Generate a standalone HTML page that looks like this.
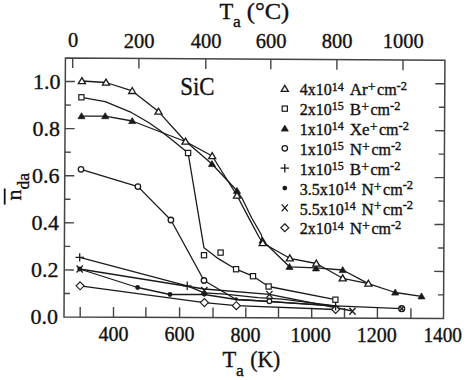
<!DOCTYPE html>
<html><head><meta charset="utf-8"><style>
html,body{margin:0;padding:0;background:#fff;width:466px;height:380px;overflow:hidden}
svg{display:block}
text{font-family:"Liberation Serif",serif}
</style></head><body>
<svg width="466" height="380" viewBox="0 0 466 380"><polygon points="65.43,57.95 444.93,60.34 443.50,318.38 64.00,317.00" fill="none" stroke="#444" stroke-width="1.5"/>
<line x1="80.20" y1="317.06" x2="80.20" y2="306.94" stroke="#444" stroke-width="1.4"/>
<line x1="113.50" y1="317.18" x2="113.50" y2="307.06" stroke="#444" stroke-width="1.4"/>
<line x1="145.90" y1="317.30" x2="145.90" y2="307.18" stroke="#444" stroke-width="1.4"/>
<line x1="179.60" y1="317.42" x2="179.60" y2="307.31" stroke="#444" stroke-width="1.4"/>
<line x1="213.00" y1="317.54" x2="213.00" y2="307.43" stroke="#444" stroke-width="1.4"/>
<line x1="245.80" y1="317.66" x2="245.80" y2="307.55" stroke="#444" stroke-width="1.4"/>
<line x1="278.50" y1="317.78" x2="278.50" y2="307.68" stroke="#444" stroke-width="1.4"/>
<line x1="311.70" y1="317.90" x2="311.70" y2="307.80" stroke="#444" stroke-width="1.4"/>
<line x1="344.50" y1="318.02" x2="344.50" y2="307.92" stroke="#444" stroke-width="1.4"/>
<line x1="377.40" y1="318.14" x2="377.40" y2="308.05" stroke="#444" stroke-width="1.4"/>
<line x1="410.90" y1="318.26" x2="410.90" y2="308.17" stroke="#444" stroke-width="1.4"/>
<line x1="72.70" y1="58.00" x2="72.70" y2="68.12" stroke="#444" stroke-width="1.4"/>
<line x1="138.90" y1="58.41" x2="138.90" y2="68.53" stroke="#444" stroke-width="1.4"/>
<line x1="205.80" y1="58.83" x2="205.80" y2="68.94" stroke="#444" stroke-width="1.4"/>
<line x1="270.80" y1="59.25" x2="270.80" y2="69.35" stroke="#444" stroke-width="1.4"/>
<line x1="336.90" y1="59.66" x2="336.90" y2="69.76" stroke="#444" stroke-width="1.4"/>
<line x1="403.00" y1="60.08" x2="403.00" y2="70.17" stroke="#444" stroke-width="1.4"/>
<line x1="64.13" y1="293.45" x2="69.91" y2="293.47" stroke="#444" stroke-width="1.4"/>
<line x1="443.63" y1="294.92" x2="437.86" y2="294.90" stroke="#444" stroke-width="1.4"/>
<line x1="64.26" y1="269.90" x2="73.83" y2="269.94" stroke="#444" stroke-width="1.4"/>
<line x1="443.76" y1="271.46" x2="434.19" y2="271.42" stroke="#444" stroke-width="1.4"/>
<line x1="64.39" y1="246.35" x2="70.17" y2="246.38" stroke="#444" stroke-width="1.4"/>
<line x1="443.89" y1="248.01" x2="438.12" y2="247.98" stroke="#444" stroke-width="1.4"/>
<line x1="64.52" y1="222.80" x2="74.09" y2="222.84" stroke="#444" stroke-width="1.4"/>
<line x1="444.02" y1="224.55" x2="434.45" y2="224.50" stroke="#444" stroke-width="1.4"/>
<line x1="64.65" y1="199.25" x2="70.43" y2="199.28" stroke="#444" stroke-width="1.4"/>
<line x1="444.15" y1="201.09" x2="438.38" y2="201.06" stroke="#444" stroke-width="1.4"/>
<line x1="64.78" y1="175.70" x2="74.35" y2="175.75" stroke="#444" stroke-width="1.4"/>
<line x1="444.28" y1="177.63" x2="434.71" y2="177.58" stroke="#444" stroke-width="1.4"/>
<line x1="64.91" y1="152.15" x2="70.69" y2="152.18" stroke="#444" stroke-width="1.4"/>
<line x1="444.41" y1="154.17" x2="438.64" y2="154.14" stroke="#444" stroke-width="1.4"/>
<line x1="65.04" y1="128.60" x2="74.61" y2="128.65" stroke="#444" stroke-width="1.4"/>
<line x1="444.54" y1="130.72" x2="434.97" y2="130.66" stroke="#444" stroke-width="1.4"/>
<line x1="65.17" y1="105.05" x2="70.95" y2="105.08" stroke="#444" stroke-width="1.4"/>
<line x1="444.67" y1="107.26" x2="438.90" y2="107.22" stroke="#444" stroke-width="1.4"/>
<line x1="65.30" y1="81.50" x2="74.87" y2="81.56" stroke="#444" stroke-width="1.4"/>
<line x1="444.80" y1="83.80" x2="435.23" y2="83.74" stroke="#444" stroke-width="1.4"/>
<text x="113.50" y="341.20" font-family="Liberation Serif" fill="#111" stroke="#111" stroke-width="0.35" font-size="20" text-anchor="middle">400</text>
<text x="179.50" y="341.37" font-family="Liberation Serif" fill="#111" stroke="#111" stroke-width="0.35" font-size="20" text-anchor="middle">600</text>
<text x="245.50" y="341.53" font-family="Liberation Serif" fill="#111" stroke="#111" stroke-width="0.35" font-size="20" text-anchor="middle">800</text>
<text x="310.60" y="341.70" font-family="Liberation Serif" fill="#111" stroke="#111" stroke-width="0.35" font-size="20" text-anchor="middle" textLength="40.3" lengthAdjust="spacingAndGlyphs">1000</text>
<text x="376.80" y="341.86" font-family="Liberation Serif" fill="#111" stroke="#111" stroke-width="0.35" font-size="20" text-anchor="middle" textLength="40.0" lengthAdjust="spacingAndGlyphs">1200</text>
<text x="442.70" y="342.03" font-family="Liberation Serif" fill="#111" stroke="#111" stroke-width="0.35" font-size="20" text-anchor="middle" textLength="38.6" lengthAdjust="spacingAndGlyphs">1400</text>
<text x="73.00" y="47.30" font-family="Liberation Serif" fill="#111" stroke="#111" stroke-width="0.35" font-size="20.5" text-anchor="middle">0</text>
<text x="139.20" y="47.50" font-family="Liberation Serif" fill="#111" stroke="#111" stroke-width="0.35" font-size="20.5" text-anchor="middle">200</text>
<text x="206.10" y="47.70" font-family="Liberation Serif" fill="#111" stroke="#111" stroke-width="0.35" font-size="20.5" text-anchor="middle">400</text>
<text x="271.10" y="47.90" font-family="Liberation Serif" fill="#111" stroke="#111" stroke-width="0.35" font-size="20.5" text-anchor="middle">600</text>
<text x="337.20" y="48.09" font-family="Liberation Serif" fill="#111" stroke="#111" stroke-width="0.35" font-size="20.5" text-anchor="middle">800</text>
<text x="403.30" y="48.29" font-family="Liberation Serif" fill="#111" stroke="#111" stroke-width="0.35" font-size="20.5" text-anchor="middle">1000</text>
<text x="58.11" y="324.30" font-family="Liberation Serif" fill="#111" stroke="#111" stroke-width="0.35" font-size="22" text-anchor="end">0.0</text>
<text x="58.57" y="277.20" font-family="Liberation Serif" fill="#111" stroke="#111" stroke-width="0.35" font-size="22" text-anchor="end">0.2</text>
<text x="59.02" y="230.10" font-family="Liberation Serif" fill="#111" stroke="#111" stroke-width="0.35" font-size="22" text-anchor="end">0.4</text>
<text x="59.48" y="183.00" font-family="Liberation Serif" fill="#111" stroke="#111" stroke-width="0.35" font-size="22" text-anchor="end">0.6</text>
<text x="59.94" y="135.90" font-family="Liberation Serif" fill="#111" stroke="#111" stroke-width="0.35" font-size="22" text-anchor="end">0.8</text>
<text x="60.40" y="88.80" font-family="Liberation Serif" fill="#111" stroke="#111" stroke-width="0.35" font-size="22" text-anchor="end">1.0</text>
<text x="219.6" y="18.6" font-family="Liberation Serif" fill="#111" stroke="#111" stroke-width="0.35" font-size="22.5">T</text>
<text x="233.0" y="27.3" font-family="Liberation Serif" fill="#111" stroke="#111" stroke-width="0.35" font-size="17.5">a</text>
<text x="246.8" y="18.6" font-family="Liberation Serif" fill="#111" stroke="#111" stroke-width="0.35" font-size="22.5" textLength="42.5" lengthAdjust="spacingAndGlyphs">(°C)</text>
<text x="222.4" y="367.0" font-family="Liberation Serif" fill="#111" stroke="#111" stroke-width="0.35" font-size="22.5">T</text>
<text x="236.0" y="375.8" font-family="Liberation Serif" fill="#111" stroke="#111" stroke-width="0.35" font-size="17.5">a</text>
<text x="250.3" y="367.0" font-family="Liberation Serif" fill="#111" stroke="#111" stroke-width="0.35" font-size="22.5" textLength="30" lengthAdjust="spacingAndGlyphs">(K)</text>
<g transform="translate(21.3,200.5) rotate(-90)"><text x="0" y="0" font-family="Liberation Serif" fill="#111" stroke="#111" stroke-width="0.35" font-size="22">n<tspan font-size="17.5" dy="7.8">da</tspan></text><line x1="-4.1" y1="-16.6" x2="12" y2="-16.6" stroke="#111" stroke-width="1.8"/></g>
<text x="180.3" y="95.1" font-family="Liberation Serif" fill="#111" stroke="#111" stroke-width="0.35" font-size="24.5" textLength="34.3" lengthAdjust="spacingAndGlyphs">SiC</text>
<circle cx="236.20" cy="299.00" r="1.80" fill="#1a1a1a"/>
<polyline points="81.9,81.0 106.0,82.5 132.2,90.9 158.5,111.6 185.5,141.5 212.2,156.0 237.0,195.5 249.0,218.4 259.0,237.0 262.7,243.0 289.8,258.3 316.3,263.5 342.7,278.3 368.4,283.6" fill="none" stroke="#1a1a1a" stroke-width="1.30" stroke-linejoin="round"/>
<polyline points="81.5,116.1 105.2,116.1 132.2,121.0 186.5,142.0 212.0,164.0 237.0,190.8 242.2,198.5 251.7,218.0 261.5,235.0 262.5,240.5 289.5,266.8 316.0,267.8 342.7,270.0 368.4,283.6 395.2,292.5 421.5,296.3" fill="none" stroke="#1a1a1a" stroke-width="1.30" stroke-linejoin="round"/>
<polyline points="81.4,97.3 105.2,101.7 130.0,111.8 149.0,122.8 160.0,130.5 172.2,140.0 188.1,153.0 204.0,247.8 218.7,258.9 236.1,269.2 253.0,276.2 268.6,286.5 335.4,299.7" fill="none" stroke="#1a1a1a" stroke-width="1.30" stroke-linejoin="round"/>
<polyline points="81.0,169.3 137.9,186.6 170.9,220.0 204.0,280.5 236.2,299.5 269.4,301.5 335.6,306.2" fill="none" stroke="#1a1a1a" stroke-width="1.30" stroke-linejoin="round"/>
<polyline points="79.7,257.4 187.2,285.8 204.3,292.8 225.0,294.2 258.0,297.6 282.0,299.2 335.6,305.9" fill="none" stroke="#1a1a1a" stroke-width="1.30" stroke-linejoin="round"/>
<polyline points="79.7,269.0 137.6,287.5 170.0,294.5 204.3,294.5 236.2,299.5 258.0,300.7 282.0,302.3 335.6,305.9 401.7,308.7" fill="none" stroke="#1a1a1a" stroke-width="1.30" stroke-linejoin="round"/>
<polyline points="79.7,269.0 204.3,289.0 269.4,294.4 352.5,311.0" fill="none" stroke="#1a1a1a" stroke-width="1.30" stroke-linejoin="round"/>
<polyline points="80.1,285.8 204.4,302.6 236.3,305.7 335.6,309.5" fill="none" stroke="#1a1a1a" stroke-width="1.30" stroke-linejoin="round"/>
<polygon points="81.50,112.70 77.95,118.70 85.05,118.70" fill="#1a1a1a" stroke="#1a1a1a" stroke-width="0.7"/>
<polygon points="105.20,112.70 101.65,118.70 108.75,118.70" fill="#1a1a1a" stroke="#1a1a1a" stroke-width="0.7"/>
<polygon points="132.20,117.60 128.65,123.60 135.75,123.60" fill="#1a1a1a" stroke="#1a1a1a" stroke-width="0.7"/>
<polygon points="212.00,160.60 208.45,166.60 215.55,166.60" fill="#1a1a1a" stroke="#1a1a1a" stroke-width="0.7"/>
<polygon points="237.00,187.40 233.45,193.40 240.55,193.40" fill="#1a1a1a" stroke="#1a1a1a" stroke-width="0.7"/>
<polygon points="262.50,237.10 258.95,243.10 266.05,243.10" fill="#1a1a1a" stroke="#1a1a1a" stroke-width="0.7"/>
<polygon points="289.50,263.40 285.95,269.40 293.05,269.40" fill="#1a1a1a" stroke="#1a1a1a" stroke-width="0.7"/>
<polygon points="316.00,264.90 312.45,270.90 319.55,270.90" fill="#1a1a1a" stroke="#1a1a1a" stroke-width="0.7"/>
<polygon points="342.70,266.60 339.15,272.60 346.25,272.60" fill="#1a1a1a" stroke="#1a1a1a" stroke-width="0.7"/>
<polygon points="395.20,289.10 391.65,295.10 398.75,295.10" fill="#1a1a1a" stroke="#1a1a1a" stroke-width="0.7"/>
<polygon points="421.50,292.90 417.95,298.90 425.05,298.90" fill="#1a1a1a" stroke="#1a1a1a" stroke-width="0.7"/>
<polygon points="81.90,77.60 78.35,83.60 85.45,83.60" fill="#fff" stroke="#1a1a1a" stroke-width="1.3" stroke-linejoin="miter"/>
<polygon points="106.00,79.10 102.45,85.10 109.55,85.10" fill="#fff" stroke="#1a1a1a" stroke-width="1.3" stroke-linejoin="miter"/>
<polygon points="132.20,87.50 128.65,93.50 135.75,93.50" fill="#fff" stroke="#1a1a1a" stroke-width="1.3" stroke-linejoin="miter"/>
<polygon points="158.50,108.20 154.95,114.20 162.05,114.20" fill="#fff" stroke="#1a1a1a" stroke-width="1.3" stroke-linejoin="miter"/>
<polygon points="185.50,138.10 181.95,144.10 189.05,144.10" fill="#fff" stroke="#1a1a1a" stroke-width="1.3" stroke-linejoin="miter"/>
<polygon points="212.20,152.60 208.65,158.60 215.75,158.60" fill="#fff" stroke="#1a1a1a" stroke-width="1.3" stroke-linejoin="miter"/>
<polygon points="237.00,192.10 233.45,198.10 240.55,198.10" fill="#fff" stroke="#1a1a1a" stroke-width="1.3" stroke-linejoin="miter"/>
<polygon points="262.70,239.60 259.15,245.60 266.25,245.60" fill="#fff" stroke="#1a1a1a" stroke-width="1.3" stroke-linejoin="miter"/>
<polygon points="289.80,254.90 286.25,260.90 293.35,260.90" fill="#fff" stroke="#1a1a1a" stroke-width="1.3" stroke-linejoin="miter"/>
<polygon points="316.30,260.10 312.75,266.10 319.85,266.10" fill="#fff" stroke="#1a1a1a" stroke-width="1.3" stroke-linejoin="miter"/>
<polygon points="342.70,274.90 339.15,280.90 346.25,280.90" fill="#fff" stroke="#1a1a1a" stroke-width="1.3" stroke-linejoin="miter"/>
<polygon points="368.40,280.20 364.85,286.20 371.95,286.20" fill="#fff" stroke="#1a1a1a" stroke-width="1.3" stroke-linejoin="miter"/>
<rect x="78.80" y="94.70" width="5.20" height="5.20" fill="#fff" stroke="#1a1a1a" stroke-width="1.2"/>
<rect x="185.50" y="150.40" width="5.20" height="5.20" fill="#fff" stroke="#1a1a1a" stroke-width="1.2"/>
<rect x="201.40" y="252.60" width="5.20" height="5.20" fill="#fff" stroke="#1a1a1a" stroke-width="1.2"/>
<rect x="218.00" y="250.00" width="5.20" height="5.20" fill="#fff" stroke="#1a1a1a" stroke-width="1.2"/>
<rect x="233.50" y="266.60" width="5.20" height="5.20" fill="#fff" stroke="#1a1a1a" stroke-width="1.2"/>
<rect x="250.40" y="273.60" width="5.20" height="5.20" fill="#fff" stroke="#1a1a1a" stroke-width="1.2"/>
<rect x="266.00" y="283.90" width="5.20" height="5.20" fill="#fff" stroke="#1a1a1a" stroke-width="1.2"/>
<rect x="332.80" y="297.10" width="5.20" height="5.20" fill="#fff" stroke="#1a1a1a" stroke-width="1.2"/>
<circle cx="81.00" cy="169.30" r="2.75" fill="#fff" stroke="#1a1a1a" stroke-width="1.3"/>
<circle cx="137.90" cy="186.60" r="2.75" fill="#fff" stroke="#1a1a1a" stroke-width="1.3"/>
<circle cx="170.90" cy="220.00" r="2.75" fill="#fff" stroke="#1a1a1a" stroke-width="1.3"/>
<circle cx="204.00" cy="280.50" r="2.75" fill="#fff" stroke="#1a1a1a" stroke-width="1.3"/>
<circle cx="269.40" cy="301.20" r="2.34" fill="#fff" stroke="#1a1a1a" stroke-width="1.3"/>
<circle cx="79.70" cy="269.00" r="2.40" fill="#1a1a1a"/>
<circle cx="137.60" cy="287.50" r="2.40" fill="#1a1a1a"/>
<circle cx="170.00" cy="294.50" r="2.40" fill="#1a1a1a"/>
<circle cx="204.30" cy="294.30" r="2.40" fill="#1a1a1a"/>
<circle cx="401.7" cy="308.7" r="2.9" fill="#fff" stroke="#1a1a1a" stroke-width="1.4"/>
<path d="M399.84 306.60L403.56 310.80M399.84 310.80L403.56 306.60" stroke="#1a1a1a" stroke-width="1.3"/>
<path d="M76.60 265.50L82.80 272.50M76.60 272.50L82.80 265.50" stroke="#1a1a1a" stroke-width="1.3"/>
<path d="M201.20 287.00L207.40 294.00M201.20 294.00L207.40 287.00" stroke="#1a1a1a" stroke-width="1.3"/>
<path d="M266.30 290.90L272.50 297.90M266.30 297.90L272.50 290.90" stroke="#1a1a1a" stroke-width="1.3"/>
<path d="M349.40 307.80L355.60 314.80M349.40 314.80L355.60 307.80" stroke="#1a1a1a" stroke-width="1.3"/>
<polygon points="80.10,281.80 84.10,285.80 80.10,289.80 76.10,285.80" fill="#fff" stroke="#1a1a1a" stroke-width="1.15"/>
<polygon points="204.40,298.60 208.40,302.60 204.40,306.60 200.40,302.60" fill="#fff" stroke="#1a1a1a" stroke-width="1.15"/>
<polygon points="236.30,301.70 240.30,305.70 236.30,309.70 232.30,305.70" fill="#fff" stroke="#1a1a1a" stroke-width="1.15"/>
<polygon points="335.60,305.50 339.60,309.50 335.60,313.50 331.60,309.50" fill="#fff" stroke="#1a1a1a" stroke-width="1.15"/>
<path d="M75.50 257.40H83.90M79.70 253.20V261.60" stroke="#1a1a1a" stroke-width="1.3"/>
<path d="M183.00 285.80H191.40M187.20 281.60V290.00" stroke="#1a1a1a" stroke-width="1.3"/>
<path d="M331.40 306.30H339.80M335.60 302.10V310.50" stroke="#1a1a1a" stroke-width="1.3"/>
<polygon points="284.80,85.40 281.25,91.40 288.35,91.40" fill="#fff" stroke="#1a1a1a" stroke-width="1.3" stroke-linejoin="miter"/>
<text x="299.8" y="95.40" font-family="Liberation Serif" fill="#111" stroke="#111" stroke-width="0.35" font-size="16">4x10<tspan font-size="12" dy="-4.8">14</tspan></text>
<text x="349.80" y="95.40" font-family="Liberation Serif" fill="#111" stroke="#111" stroke-width="0.35" font-size="17">Ar<tspan font-size="14" dy="-4.1">+</tspan><tspan font-size="16" dy="4.1" dx="1.4">cm</tspan><tspan font-size="12.5" dy="-5.3">-2</tspan></text>
<rect x="282.20" y="106.05" width="5.20" height="5.20" fill="#fff" stroke="#1a1a1a" stroke-width="1.2"/>
<text x="299.8" y="115.25" font-family="Liberation Serif" fill="#111" stroke="#111" stroke-width="0.35" font-size="16">2x10<tspan font-size="12" dy="-4.8">15</tspan></text>
<text x="349.80" y="115.25" font-family="Liberation Serif" fill="#111" stroke="#111" stroke-width="0.35" font-size="17">B<tspan font-size="14" dy="-4.1">+</tspan><tspan font-size="16" dy="4.1" dx="1.4">cm</tspan><tspan font-size="12.5" dy="-5.3">-2</tspan></text>
<polygon points="284.80,125.10 281.25,131.10 288.35,131.10" fill="#1a1a1a" stroke="#1a1a1a" stroke-width="0.7"/>
<text x="299.8" y="135.10" font-family="Liberation Serif" fill="#111" stroke="#111" stroke-width="0.35" font-size="16">1x10<tspan font-size="12" dy="-4.8">14</tspan></text>
<text x="349.80" y="135.10" font-family="Liberation Serif" fill="#111" stroke="#111" stroke-width="0.35" font-size="17">Xe<tspan font-size="14" dy="-4.1">+</tspan><tspan font-size="16" dy="4.1" dx="1.4">cm</tspan><tspan font-size="12.5" dy="-5.3">-2</tspan></text>
<circle cx="284.80" cy="148.35" r="2.75" fill="#fff" stroke="#1a1a1a" stroke-width="1.3"/>
<text x="299.8" y="154.95" font-family="Liberation Serif" fill="#111" stroke="#111" stroke-width="0.35" font-size="16">1x10<tspan font-size="12" dy="-4.8">15</tspan></text>
<text x="349.80" y="154.95" font-family="Liberation Serif" fill="#111" stroke="#111" stroke-width="0.35" font-size="17">N<tspan font-size="14" dy="-4.1">+</tspan><tspan font-size="16" dy="4.1" dx="1.4">cm</tspan><tspan font-size="12.5" dy="-5.3">-2</tspan></text>
<path d="M280.60 168.20H289.00M284.80 164.00V172.40" stroke="#1a1a1a" stroke-width="1.3"/>
<text x="299.8" y="174.80" font-family="Liberation Serif" fill="#111" stroke="#111" stroke-width="0.35" font-size="16">1x10<tspan font-size="12" dy="-4.8">15</tspan></text>
<text x="349.80" y="174.80" font-family="Liberation Serif" fill="#111" stroke="#111" stroke-width="0.35" font-size="17">B<tspan font-size="14" dy="-4.1">+</tspan><tspan font-size="16" dy="4.1" dx="1.4">cm</tspan><tspan font-size="12.5" dy="-5.3">-2</tspan></text>
<circle cx="284.80" cy="188.05" r="2.40" fill="#1a1a1a"/>
<text x="299.8" y="194.65" font-family="Liberation Serif" fill="#111" stroke="#111" stroke-width="0.35" font-size="16">3.5x10<tspan font-size="12" dy="-4.8">14</tspan></text>
<text x="361.50" y="194.65" font-family="Liberation Serif" fill="#111" stroke="#111" stroke-width="0.35" font-size="17">N<tspan font-size="14" dy="-4.1">+</tspan><tspan font-size="16" dy="4.1" dx="1.4">cm</tspan><tspan font-size="12.5" dy="-5.3">-2</tspan></text>
<path d="M281.70 204.40L287.90 211.40M281.70 211.40L287.90 204.40" stroke="#1a1a1a" stroke-width="1.3"/>
<text x="299.8" y="214.50" font-family="Liberation Serif" fill="#111" stroke="#111" stroke-width="0.35" font-size="16">5.5x10<tspan font-size="12" dy="-4.8">14</tspan></text>
<text x="361.50" y="214.50" font-family="Liberation Serif" fill="#111" stroke="#111" stroke-width="0.35" font-size="17">N<tspan font-size="14" dy="-4.1">+</tspan><tspan font-size="16" dy="4.1" dx="1.4">cm</tspan><tspan font-size="12.5" dy="-5.3">-2</tspan></text>
<polygon points="284.80,223.75 288.80,227.75 284.80,231.75 280.80,227.75" fill="#fff" stroke="#1a1a1a" stroke-width="1.15"/>
<text x="299.8" y="234.35" font-family="Liberation Serif" fill="#111" stroke="#111" stroke-width="0.35" font-size="16">2x10<tspan font-size="12" dy="-4.8">14</tspan></text>
<text x="349.80" y="234.35" font-family="Liberation Serif" fill="#111" stroke="#111" stroke-width="0.35" font-size="17">N<tspan font-size="14" dy="-4.1">+</tspan><tspan font-size="16" dy="4.1" dx="1.4">cm</tspan><tspan font-size="12.5" dy="-5.3">-2</tspan></text></svg>
</body></html>
